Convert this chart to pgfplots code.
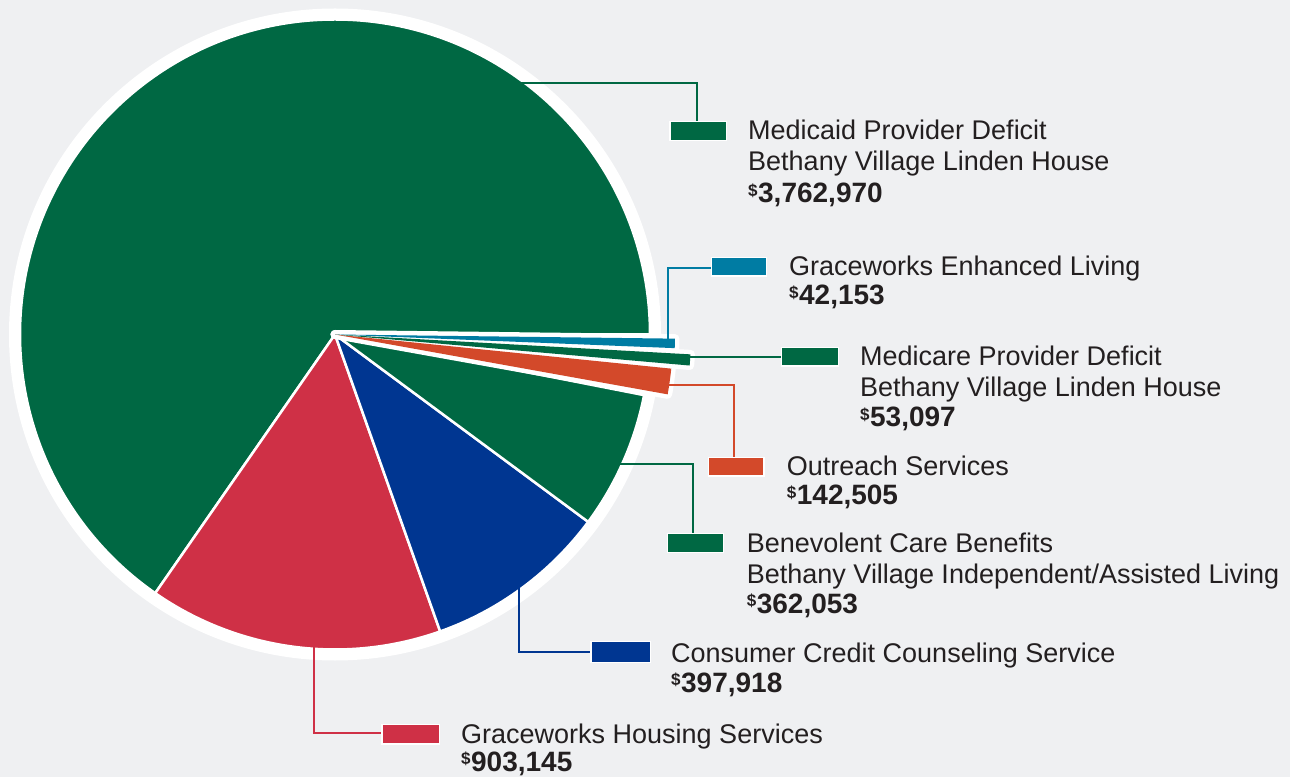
\documentclass[border=0pt]{standalone}
\usepackage{fontspec}
\setmainfont{Liberation Sans}
\usepackage{pgfplots}
\pgfplotsset{compat=1.18}
\definecolor{bgc}{RGB}{239,240,242}
\definecolor{pgreen}{RGB}{0,104,67}
\definecolor{pteal}{RGB}{0,124,163}
\definecolor{pred}{RGB}{207,48,70}
\definecolor{pnavy}{RGB}{0,54,145}
\definecolor{porange}{RGB}{211,73,42}
\definecolor{txt}{RGB}{35,31,32}
% centre of the pie (pixel coordinates, y upward)
\def\cx{335}\def\cy{442.5}
% sector: colour, start angle, end angle, radius
\newcommand{\sector}[4]{%
  \fill[#1,draw=white,line width=2.5pt,line join=round]
    (axis cs:\cx,\cy) -- (axis cs:{\cx+#4*cos(#2)},{\cy+#4*sin(#2)})
    arc[start angle=#2,end angle=#3,radius=#4pt] -- cycle;}
\newcommand{\halo}[3]{%
  \draw[white,fill=white,line width=9pt,line join=round]
    (axis cs:\cx,\cy) -- (axis cs:{\cx+#3*cos(#1)},{\cy+#3*sin(#1)})
    arc[start angle=#1,end angle=#2,radius=#3pt] -- cycle;}
\newcommand{\sliver}[4]{%
  \fill[#1]
    (axis cs:\cx,\cy) -- (axis cs:{\cx+#4*cos(#2)},{\cy+#4*sin(#2)})
    arc[start angle=#2,end angle=#3,radius=#4pt] -- cycle;}
\newcommand{\swatch}[5]{%
  \filldraw[#1,draw=white,line width=1.5pt]
    (axis cs:#2,{777-#3}) rectangle (axis cs:#4,{777-#5});}
\newcommand{\reg}[3]{%
  \node[anchor=base west,inner sep=0pt,text=txt,font=\fontsize{27}{31}\selectfont]
    at (axis cs:#1,{777-#2}) {#3};}
\newcommand{\amt}[3]{%
  \node[anchor=base west,inner sep=0pt,text=txt,font=\fontsize{28}{31}\selectfont\bfseries]
    at (axis cs:#1,{777-#2}) {\raisebox{6.5pt}{\fontsize{17}{17}\selectfont\$}\hspace{0.5pt}#3};}
\begin{document}
\begin{tikzpicture}
\begin{axis}[width=1290pt,height=777pt,scale only axis,
  xmin=0,xmax=1290,ymin=0,ymax=777,hide axis,clip=false]
\coordinate (SW) at (axis cs:0,0);
\coordinate (NE) at (axis cs:1290,777);
\fill[bgc] (axis cs:0,0) rectangle (axis cs:1290,777);
% white ring
\fill[white] (axis cs:\cx,\cy) circle[radius=326pt];
% main sectors (angles)
\sector{pgreen}{0}{235.2}{315}
\sector{pred}{235.2}{289.5}{315}
\sector{pnavy}{289.5}{323.5}{315}
\sector{pgreen}{323.5}{348.9}{315}
% exploded slivers
\halo{349.8}{354.2}{338}
\halo{355.0}{356.8}{356}
\halo{357.7}{359.3}{340}
% leader lines
\draw[pgreen,line width=2pt] (axis cs:521,{777-82.7}) -- (axis cs:697,{777-82.7}) -- (axis cs:697,{777-122});
\draw[pteal,line width=2pt] (axis cs:668,{777-341}) -- (axis cs:668,{777-268.3}) -- (axis cs:712,{777-268.3});
\draw[pgreen,line width=2pt] (axis cs:685,{777-356.7}) -- (axis cs:782,{777-356.7});
\draw[porange,line width=2pt] (axis cs:662,{777-385}) -- (axis cs:734,{777-385}) -- (axis cs:734,{777-457.3});
\draw[pgreen,line width=2pt] (axis cs:616,{777-464.3}) -- (axis cs:693.3,{777-464.3}) -- (axis cs:693.3,{777-533.3});
\draw[pnavy,line width=2pt] (axis cs:518.6,{777-585}) -- (axis cs:518.6,{777-652.3}) -- (axis cs:591,{777-652.3});
\draw[pred,line width=2pt] (axis cs:314,{777-644}) -- (axis cs:314,{777-733.3}) -- (axis cs:382,{777-733.3});
\sliver{porange}{349.8}{354.2}{338}
\sliver{pgreen}{355.0}{356.8}{356}
\sliver{pteal}{357.7}{359.3}{340}
% legend swatches
\swatch{pgreen}{670}{121.7}{726.7}{140.7}
\swatch{pteal}{711.7}{257.3}{766.7}{276}
\swatch{pgreen}{781.7}{347.3}{838.3}{366}
\swatch{porange}{708.3}{457.3}{764}{476}
\swatch{pgreen}{667.3}{533.3}{723.3}{552.7}
\swatch{pnavy}{591}{641.7}{650.7}{662.7}
\swatch{pred}{382}{724.3}{439.6}{744}
% labels
\reg{748}{140}{Medicaid Provider Deficit}
\reg{748}{171}{Bethany Village Linden House}
\amt{748}{202.7}{3,762,970}
\reg{789}{276}{Graceworks Enhanced Living}
\amt{789}{305}{42,153}
\reg{860}{366}{Medicare Provider Deficit}
\reg{860}{397}{Bethany Village Linden House}
\amt{860}{427}{53,097}
\reg{786.7}{476}{Outreach Services}
\amt{786.7}{505}{142,505}
\reg{746.7}{552.5}{Benevolent Care Benefits}
\reg{746.7}{583}{Bethany Village Independent/Assisted Living}
\amt{746.7}{613}{362,053}
\reg{671}{662}{Consumer Credit Counseling Service}
\amt{671}{692}{397,918}
\reg{461}{743}{Graceworks Housing Services}
\amt{461}{771}{903,145}
\end{axis}
\pgfresetboundingbox
\path[use as bounding box] (SW) rectangle (NE);
\end{tikzpicture}
\end{document}
